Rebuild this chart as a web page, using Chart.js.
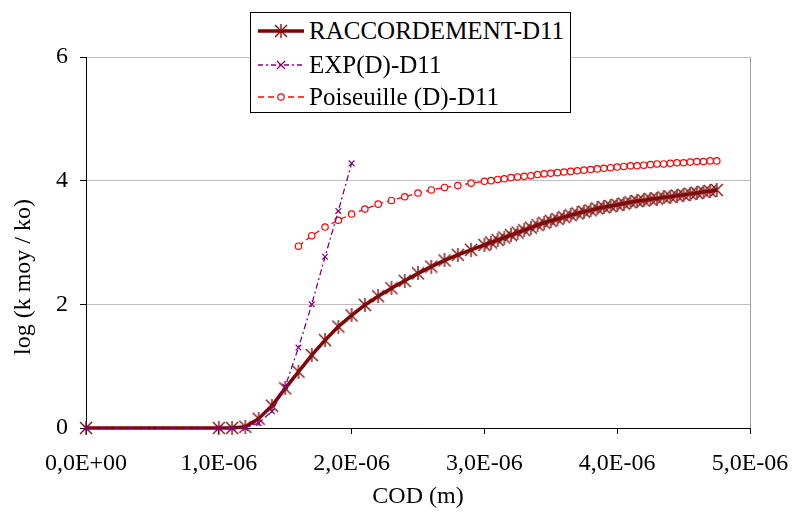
<!DOCTYPE html>
<html>
<head>
<meta charset="utf-8">
<script src="https://cdn.jsdelivr.net/npm/chart.js@4"></script>
<style>
    body { margin: 0; background: #fff; }
    #wrap { position: relative; width: 793px; height: 514px; }
    #legend {
        position: absolute; left: 250px; top: 12px; width: 319px; height: 99px;
        border: 1px solid #000; background: #fff;
        font-family: 'Liberation Serif', 'Times New Roman', serif; font-size: 25px; color: #000;
    }
    .lg-row { position: absolute; left: 0; height: 34px; display: flex; align-items: center; }
    .lg-row svg { margin-left: 7px; margin-right: 5px; }
</style>
</head>
<body>
<div id="wrap">
    <canvas id="chart" width="793" height="514"></canvas>
    <div id="legend">
        <div class="lg-row" style="top:1px">
            <svg width="46" height="20"><line x1="0" y1="10" x2="46" y2="10" stroke="#800000" stroke-width="3.5"/>
                <path d="M17 4 L29 16 M29 4 L17 16 M23 3 L23 17" stroke="#801010" stroke-width="1.4"/></svg>
            <span>RACCORDEMENT-D11</span>
        </div>
        <div class="lg-row" style="top:35px">
            <svg width="46" height="20"><line x1="0" y1="10" x2="46" y2="10" stroke="#800080" stroke-width="1.3" stroke-dasharray="5,3,2,3"/>
                <path d="M19 6 L27 14 M27 6 L19 14" stroke="#800080" stroke-width="1.2"/></svg>
            <span>EXP(D)-D11</span>
        </div>
        <div class="lg-row" style="top:67px">
            <svg width="46" height="20"><line x1="0" y1="10" x2="46" y2="10" stroke="#ff0000" stroke-width="1.3" stroke-dasharray="6,4"/>
                <circle cx="23" cy="10" r="3.2" fill="#fff" stroke="#ff0000" stroke-width="1.2"/></svg>
            <span>Poiseuille (D)-D11</span>
        </div>
    </div>
</div>
<script>
/* ============================================
   DATA  (COD in units of 1E-06 m)
============================================ */
const codRacc = [0, 1.0, 1.1, 1.2, 1.3, 1.4, 1.5, 1.6, 1.7, 1.8, 1.9, 2.0, 2.1, 2.2, 2.3, 2.4, 2.5, 2.6, 2.7, 2.8, 2.9, 3.0,
    3.05, 3.10, 3.15, 3.20, 3.25, 3.30, 3.35, 3.40, 3.45, 3.50, 3.55, 3.60, 3.65, 3.70, 3.75, 3.80, 3.85, 3.90, 3.95,
    4.00, 4.05, 4.10, 4.15, 4.20, 4.25, 4.30, 4.35, 4.40, 4.45, 4.50, 4.55, 4.60, 4.65, 4.70, 4.75];
const logRacc = [0, 0, 0, 0.02, 0.15, 0.36, 0.64, 0.91, 1.18, 1.42, 1.64, 1.82, 1.99, 2.13, 2.26, 2.38, 2.50, 2.61, 2.71, 2.80, 2.88, 2.96,
    3.00, 3.04, 3.08, 3.12, 3.16, 3.20, 3.24, 3.28, 3.32, 3.35, 3.38, 3.41, 3.44, 3.47, 3.50, 3.52, 3.55, 3.57, 3.59,
    3.61, 3.63, 3.65, 3.67, 3.68, 3.70, 3.71, 3.73, 3.74, 3.76, 3.77, 3.79, 3.80, 3.82, 3.83, 3.85];

const codExp = [0, 1.0, 1.1, 1.2, 1.3, 1.4, 1.5, 1.6, 1.7, 1.8, 1.9, 2.0];
const logExp = [0, 0, 0, 0, 0.08, 0.27, 0.67, 1.30, 2.00, 2.77, 3.51, 4.28];

const codPois = [1.6, 1.7, 1.8, 1.9, 2.0, 2.1, 2.2, 2.3, 2.4, 2.5, 2.6, 2.7, 2.8, 2.9, 3.0,
    3.05, 3.10, 3.15, 3.20, 3.25, 3.30, 3.35, 3.40, 3.45, 3.50, 3.55, 3.60, 3.65, 3.70, 3.75, 3.80, 3.85, 3.90, 3.95,
    4.00, 4.05, 4.10, 4.15, 4.20, 4.25, 4.30, 4.35, 4.40, 4.45, 4.50, 4.55, 4.60, 4.65, 4.70, 4.75];
const logPois = [2.94, 3.11, 3.25, 3.36, 3.46, 3.54, 3.62, 3.68, 3.74, 3.80, 3.85, 3.89, 3.92, 3.96, 3.99,
    4.00, 4.02, 4.03, 4.05, 4.06, 4.07, 4.08, 4.10, 4.11, 4.12, 4.13, 4.14, 4.15, 4.16, 4.17, 4.18, 4.19, 4.20, 4.21,
    4.22, 4.23, 4.24, 4.24, 4.25, 4.26, 4.27, 4.27, 4.28, 4.29, 4.29, 4.30, 4.31, 4.31, 4.32, 4.32];

const xTicks = [0, 1, 2, 3, 4, 5];
const yTicks = [0, 2, 4, 6];

const FONT = "'Liberation Serif', 'Times New Roman', serif";

function pts(xs, ys) {
    return xs.map((x, i) => ({ x: x, y: ys[i] }));
}

// "1,0E-06" style labels
function sci(v) {
    if (v === 0) return '0,0E+00';
    const e = Math.floor(Math.log10(Math.abs(v)) + 1e-9);
    const m = v / Math.pow(10, e);
    return m.toFixed(1).replace('.', ',') + 'E' + (e < 0 ? '-' : '+') + String(Math.abs(e)).padStart(2, '0');
}

// asterisk marker
function asterisk() {
    const c = document.createElement('canvas');
    c.width = 14; c.height = 14;
    const g = c.getContext('2d');
    g.strokeStyle = '#801010';
    g.lineWidth = 1.4;
    g.beginPath();
    g.moveTo(1, 1); g.lineTo(13, 13);
    g.moveTo(13, 1); g.lineTo(1, 13);
    g.moveTo(7, 0); g.lineTo(7, 14);
    g.stroke();
    return c;
}

const framePlugin = {
    id: 'frame',
    afterDraw(chart) {
        const { ctx, chartArea: a } = chart;
        ctx.save();
        ctx.strokeStyle = '#a0a0a0';
        ctx.lineWidth = 1;
        ctx.beginPath();
        ctx.moveTo(a.right + 0.5, a.top);
        ctx.lineTo(a.right + 0.5, a.bottom);
        ctx.stroke();
        // y axis title
        ctx.fillStyle = '#000';
        ctx.font = '24px ' + FONT;
        ctx.translate(24, 277);
        ctx.rotate(-Math.PI / 2);
        ctx.textAlign = 'center';
        ctx.textBaseline = 'middle';
        ctx.fillText('log (k moy / ko)', 0, 0);
        ctx.restore();
    }
};

new Chart(document.getElementById('chart').getContext('2d'), {
    type: 'scatter',
    data: {
        datasets: [{
            label: 'RACCORDEMENT-D11',
            data: pts(codRacc, logRacc),
            showLine: true,
            clip: false,
            borderColor: '#800000',
            borderWidth: 3.5,
            pointStyle: asterisk(),
            order: 2
        }, {
            label: 'EXP(D)-D11',
            data: pts(codExp, logExp),
            showLine: true,
            clip: false,
            borderColor: '#800080',
            borderWidth: 1.3,
            borderDash: [6, 3, 2, 3],
            pointStyle: 'crossRot',
            pointRadius: 4,
            pointBorderColor: '#800080',
            pointBorderWidth: 1.2,
            order: 0
        }, {
            label: 'Poiseuille (D)-D11',
            data: pts(codPois, logPois),
            showLine: true,
            clip: false,
            borderColor: '#ff0000',
            borderWidth: 1.3,
            borderDash: [6, 4],
            pointStyle: 'circle',
            pointRadius: 3.2,
            pointBackgroundColor: '#fff',
            pointBorderColor: '#ff0000',
            pointBorderWidth: 1.2,
            order: 1
        }]
    },
    options: {
        responsive: false,
        animation: false,
        layout: { padding: { top: 57, right: 43, left: 0, bottom: 0 } },
        plugins: { legend: { display: false }, tooltip: { enabled: false } },
        scales: {
            x: {
                type: 'linear',
                min: 0, max: 5,
                afterFit: s => { s.height = 86; s.paddingLeft = 0; s.paddingRight = 0; },
                afterBuildTicks: s => { s.ticks = xTicks.map(v => ({ value: v })); },
                ticks: {
                    color: '#000', padding: 15, maxRotation: 0, autoSkip: false,
                    font: { family: FONT, size: 24 },
                    callback: v => sci(v * 1e-6)
                },
                grid: { drawOnChartArea: false, tickColor: '#000', tickLength: 6 },
                border: { color: '#000', width: 1 },
                title: {
                    display: true, text: 'COD (m)', color: '#000',
                    font: { family: FONT, size: 24 },
                    padding: { top: 0, bottom: 3 }
                }
            },
            y: {
                min: 0, max: 6,
                afterFit: s => { s.width = 86; s.paddingTop = 0; s.paddingBottom = 0; },
                afterBuildTicks: s => { s.ticks = yTicks.map(v => ({ value: v })); },
                ticks: {
                    color: '#000', padding: 12,
                    font: { family: FONT, size: 24 }
                },
                grid: { color: '#c0c0c0', tickColor: '#000', tickLength: 6 },
                border: { color: '#000', width: 1 }
            }
        }
    },
    plugins: [framePlugin]
});
</script>
</body>
</html>
